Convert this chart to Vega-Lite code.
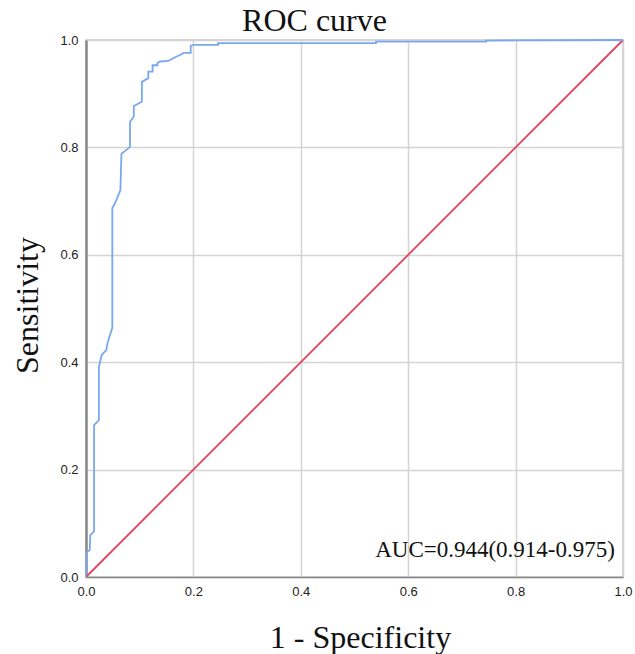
{
  "$schema": "https://vega.github.io/schema/vega-lite/v6.json",
  "autosize": {"type": "none"},
  "padding": {"left": 86, "top": 40, "right": 12, "bottom": 77},
  "width": 537,
  "height": 537,
  "background": "white",
  "title": {
    "text": "ROC curve",
    "font": "Liberation Serif",
    "fontSize": 32,
    "fontWeight": "normal",
    "color": "#111",
    "anchor": "middle",
    "frame": "group",
    "dx": -40,
    "dy": 10,
    "offset": 6
  },
  "config": {
    "view": {"stroke": "#c8c8c8", "strokeWidth": 1.5},
    "axis": {
      "grid": true,
      "gridColor": "#d4d4d4",
      "gridWidth": 1.5,
      "ticks": false,
      "labelFont": "Liberation Sans",
      "labelFontSize": 13,
      "labelColor": "#222",
      "labelPadding": 8,
      "labelFlush": false,
      "titleFont": "Liberation Serif",
      "titleFontSize": 32,
      "titleFontWeight": "normal",
      "titleColor": "#111",
      "domainColor": "#8a8a8a"
    }
  },
  "datasets": {
    "roc": [
      {"o": 0, "x": 0.0, "y": 0.0},
      {"o": 1, "x": 0.0, "y": 0.045},
      {"o": 2, "x": 0.007, "y": 0.05},
      {"o": 3, "x": 0.008, "y": 0.078},
      {"o": 4, "x": 0.015, "y": 0.085},
      {"o": 5, "x": 0.015, "y": 0.283},
      {"o": 6, "x": 0.024, "y": 0.292},
      {"o": 7, "x": 0.024, "y": 0.391},
      {"o": 8, "x": 0.029, "y": 0.413},
      {"o": 9, "x": 0.038, "y": 0.423},
      {"o": 10, "x": 0.040, "y": 0.436},
      {"o": 11, "x": 0.049, "y": 0.464},
      {"o": 12, "x": 0.049, "y": 0.687},
      {"o": 13, "x": 0.054, "y": 0.696},
      {"o": 14, "x": 0.064, "y": 0.72},
      {"o": 15, "x": 0.066, "y": 0.788},
      {"o": 16, "x": 0.082, "y": 0.801},
      {"o": 17, "x": 0.082, "y": 0.848},
      {"o": 18, "x": 0.089, "y": 0.857},
      {"o": 19, "x": 0.089, "y": 0.877},
      {"o": 20, "x": 0.104, "y": 0.885},
      {"o": 21, "x": 0.104, "y": 0.922},
      {"o": 22, "x": 0.116, "y": 0.929},
      {"o": 23, "x": 0.116, "y": 0.941},
      {"o": 24, "x": 0.124, "y": 0.941},
      {"o": 25, "x": 0.124, "y": 0.953},
      {"o": 26, "x": 0.133, "y": 0.953},
      {"o": 27, "x": 0.133, "y": 0.957},
      {"o": 28, "x": 0.138, "y": 0.960},
      {"o": 29, "x": 0.153, "y": 0.961},
      {"o": 30, "x": 0.166, "y": 0.968},
      {"o": 31, "x": 0.175, "y": 0.972},
      {"o": 32, "x": 0.182, "y": 0.976},
      {"o": 33, "x": 0.195, "y": 0.976},
      {"o": 34, "x": 0.195, "y": 0.989},
      {"o": 35, "x": 0.2, "y": 0.991},
      {"o": 36, "x": 0.246, "y": 0.991},
      {"o": 37, "x": 0.246, "y": 0.994},
      {"o": 38, "x": 0.54, "y": 0.994},
      {"o": 39, "x": 0.54, "y": 0.997},
      {"o": 40, "x": 0.745, "y": 0.997},
      {"o": 41, "x": 0.745, "y": 0.999},
      {"o": 42, "x": 1.0, "y": 1.0}
    ],
    "diag": [
      {"x": 0, "y": 0},
      {"x": 1, "y": 1}
    ],
    "note": [
      {"x": 0.985, "y": 0.037, "label": "AUC=0.944(0.914-0.975)"}
    ]
  },
  "layer": [
    {
      "data": {"name": "diag"},
      "mark": {"type": "line", "color": "#e6405f", "strokeWidth": 1.8},
      "encoding": {
        "x": {
          "field": "x", "type": "quantitative",
          "scale": {"domain": [0, 1], "nice": false},
          "axis": {
            "values": [0, 0.2, 0.4, 0.6, 0.8, 1.0],
            "format": ".1f",
            "title": "1 - Specificity",
            "titleX": 274,
            "titleY": 70,
            "titleBaseline": "alphabetic",
            "domainWidth": 1.5
          }
        },
        "y": {
          "field": "y", "type": "quantitative",
          "scale": {"domain": [0, 1], "nice": false},
          "axis": {
            "values": [0, 0.2, 0.4, 0.6, 0.8, 1.0],
            "format": ".1f",
            "title": "Sensitivity",
            "titleX": -49,
            "titleY": 265,
            "titleBaseline": "alphabetic",
            "domainWidth": 2.5
          }
        }
      }
    },
    {
      "data": {"name": "roc"},
      "mark": {"type": "line", "color": "#7aa8ee", "strokeWidth": 1.8},
      "encoding": {
        "x": {"field": "x", "type": "quantitative"},
        "y": {"field": "y", "type": "quantitative"},
        "order": {"field": "o", "type": "quantitative"}
      }
    },
    {
      "data": {"name": "note"},
      "mark": {"type": "text", "font": "Liberation Serif", "fontSize": 23, "align": "right", "baseline": "alphabetic", "color": "#111"},
      "encoding": {
        "x": {"field": "x", "type": "quantitative"},
        "y": {"field": "y", "type": "quantitative"},
        "text": {"field": "label"}
      }
    }
  ]
}
